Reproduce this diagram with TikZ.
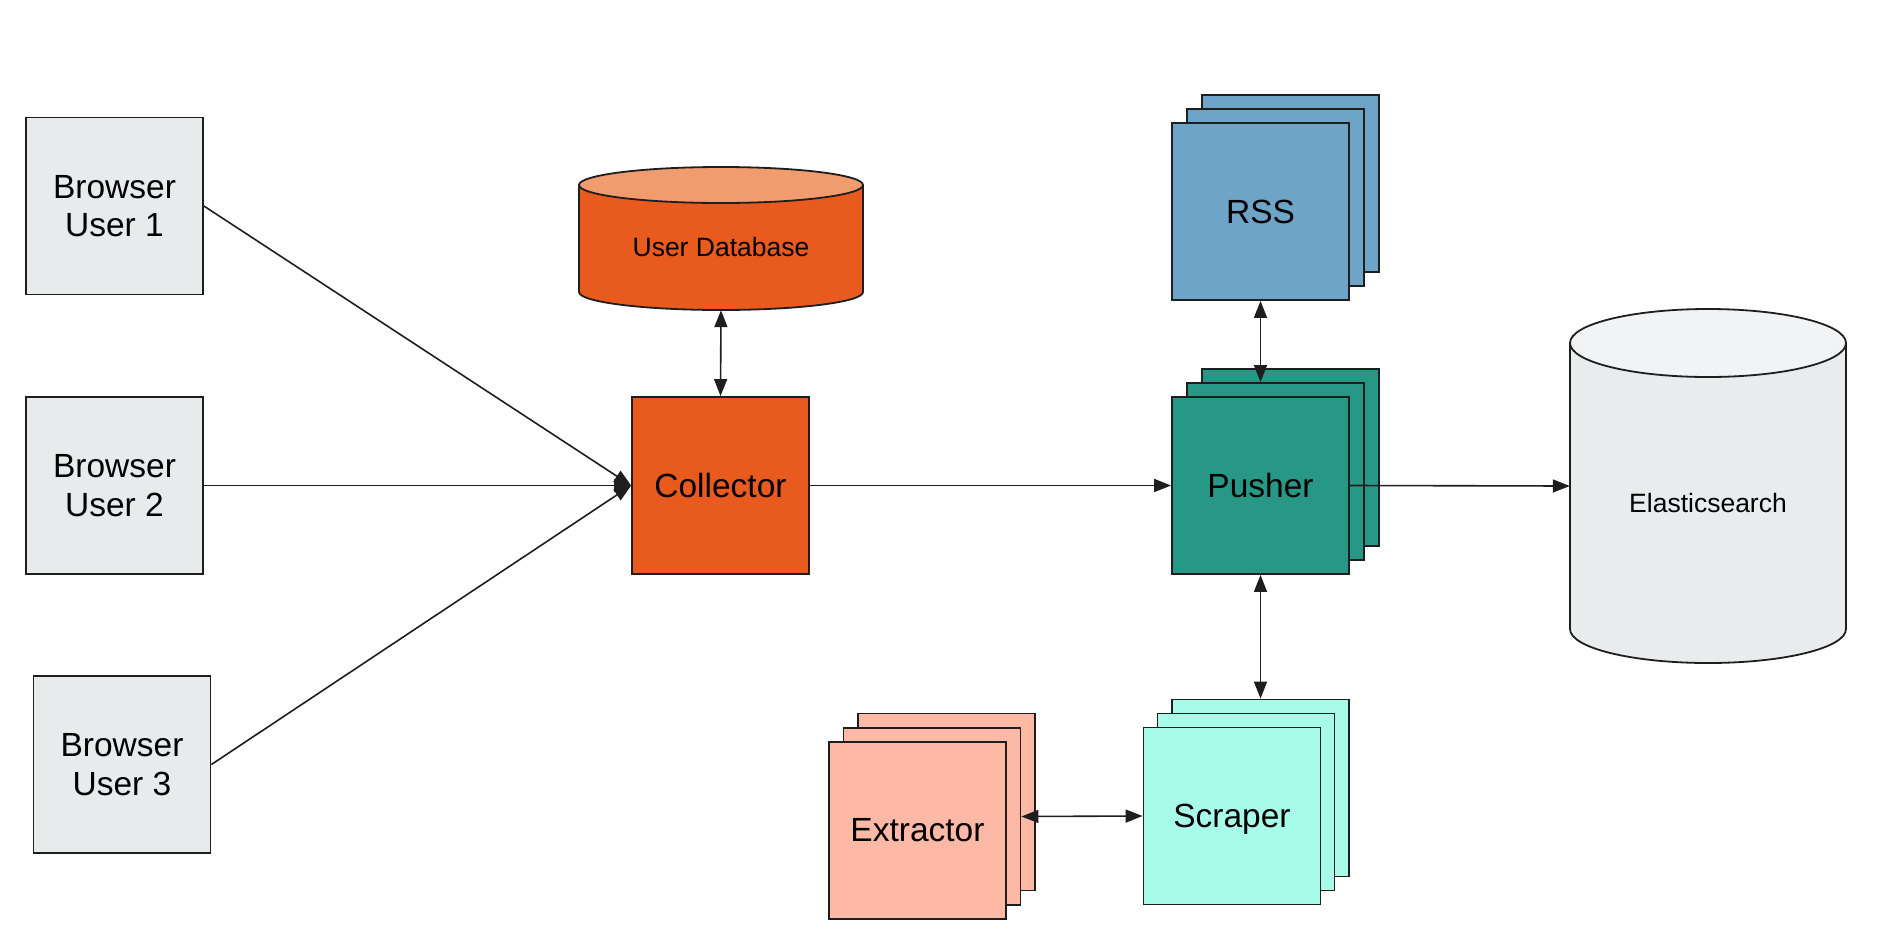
\documentclass[tikz,border=0pt]{standalone}
\usepackage{fontspec}
\setmainfont{Liberation Sans}
\usetikzlibrary{arrows.meta}
\definecolor{brgray}{HTML}{E8EBEC}
\definecolor{orng}{HTML}{E85A1E}
\definecolor{orngtop}{HTML}{F09C6E}
\definecolor{rssblue}{HTML}{6DA4C8}
\definecolor{pushteal}{HTML}{279786}
\definecolor{scraqua}{HTML}{A7FCE9}
\definecolor{extsalmon}{HTML}{FDB9A5}
\definecolor{esbody}{HTML}{E8ECED}
\definecolor{estop}{HTML}{F1F3F4}
\definecolor{ink}{HTML}{1E1E1E}
\tikzset{
  box/.style={draw=ink, line width=1.8pt, rectangle, minimum width=177pt, minimum height=177pt, inner sep=0pt, align=center, font=\fontsize{33.5}{38.5}\selectfont},
  cyl/.style={draw=ink, line width=1.8pt},
  conn/.style={draw=ink, line width=1.6pt},
  arr/.style={conn, -{Triangle[length=17pt,width=13pt]}},
  darr/.style={conn, {Triangle[length=17pt,width=13pt]}-{Triangle[length=17pt,width=13pt]}},
  smalltext/.style={font=\fontsize{26.5}{30}\selectfont, inner sep=0pt},
  hidden/.style={rectangle, inner sep=0pt}
}
\begin{document}
\begin{tikzpicture}[x=1pt, y=-1pt]
\useasboundingbox (0,0) rectangle (1882,946);

% Browsers
\node[box, fill=brgray] (b1) at (114.5,206) {Browser\\User 1};
\node[box, fill=brgray] (b2) at (114.5,485.5) {Browser\\User 2};
\node[box, fill=brgray] (b3) at (122,764.5) {Browser\\User 3};

% Collector
\node[box, fill=orng] (collector) at (720.5,485.5) {Collector};

% User Database cylinder
\fill[orng] (579,185) -- (579,292) arc[start angle=180, end angle=360, x radius=142pt, y radius=18pt] -- (863,185) -- cycle;
\draw[cyl] (579,185) -- (579,292) arc[start angle=180, end angle=360, x radius=142pt, y radius=18pt] -- (863,185);
\draw[cyl, fill=orngtop] (721,185) ellipse[x radius=142pt, y radius=18pt];
\node[hidden, minimum width=284pt, minimum height=143pt] (db) at (721,238.5) {};
\node[smalltext] (dblabel) at (721,247.5) {User Database};

% Elasticsearch cylinder
\fill[esbody] (1570,343) -- (1570,629) arc[start angle=180, end angle=360, x radius=138pt, y radius=34pt] -- (1846,343) -- cycle;
\draw[cyl] (1570,343) -- (1570,629) arc[start angle=180, end angle=360, x radius=138pt, y radius=34pt] -- (1846,343);
\draw[cyl, fill=estop] (1708,343) ellipse[x radius=138pt, y radius=34pt];
\node[hidden, minimum width=276pt, minimum height=354pt] (es) at (1708,486) {};
\node[smalltext] (eslabel) at (1708,503) {Elasticsearch};

% RSS stack
\node[box, fill=rssblue] (rss3) at (1290.5,183.5) {};
\node[box, fill=rssblue] (rss2) at (1275.5,197.5) {};
\node[box, fill=rssblue] (rss) at (1260.5,211.5) {RSS};

% Pusher stack
\node[box, fill=pushteal] (pusher3) at (1290.5,457.5) {};
\node[box, fill=pushteal] (pusher2) at (1275.5,471.5) {};
\node[box, fill=pushteal] (pusher) at (1260.5,485.5) {Pusher};

% Scraper stack
\node[box, fill=scraqua] (scraper3) at (1260.5,788) {};
\node[box, fill=scraqua] (scraper2) at (1246,802) {};
\node[box, fill=scraqua, text depth=0pt] (scraper) at (1232,816) {Scraper};

% Extractor stack
\node[box, fill=extsalmon] (extractor3) at (946.5,802) {};
\node[box, fill=extsalmon] (extractor2) at (932,816.5) {};
\node[box, fill=extsalmon] (extractor) at (917.5,830.5) {Extractor};

% Connectors
\draw[arr] (b1.east) -- (collector.west);
\draw[arr] (b2.east) -- (collector.west);
\draw[arr] (b3.east) -- (collector.west);
\draw[darr] (db.south) -- (collector.north);
\draw[arr] (collector.east) -- (pusher.west);
\draw[darr] (rss.south) -- (rss.south |- pusher2.north);
\draw[arr] (pusher.east) -- (es.west);
\draw[darr] (pusher.south) -- (scraper3.north);
\draw[darr] (extractor2.east) -- (scraper.west);
\end{tikzpicture}
\end{document}
